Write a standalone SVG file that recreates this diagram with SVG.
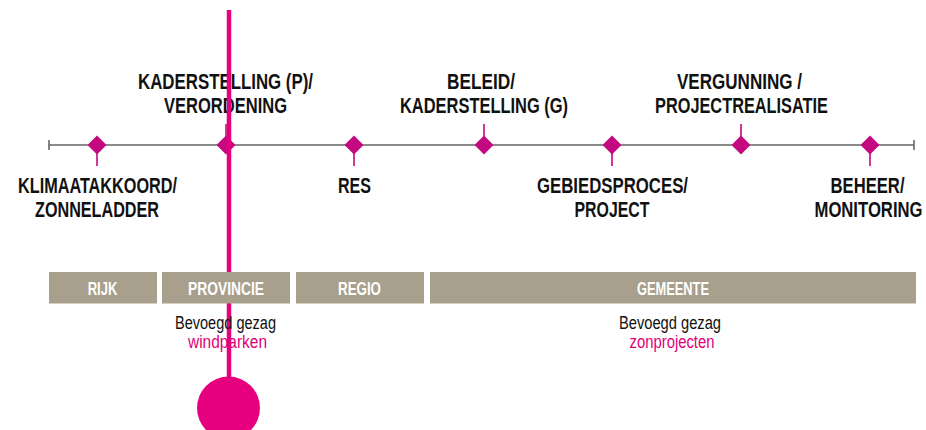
<svg xmlns="http://www.w3.org/2000/svg" width="926" height="430" viewBox="0 0 926 430">
<style>
.h{font-family:"Liberation Sans",Arial,sans-serif;font-weight:bold;font-size:22px;fill:#111;text-anchor:middle}
.b{font-family:"Liberation Sans",Arial,sans-serif;font-weight:bold;font-size:17.5px;fill:#fff;text-anchor:middle}
.r{font-family:"Liberation Sans",Arial,sans-serif;font-size:18px;fill:#111;text-anchor:middle}
.p{fill:#e0007a}
.bar{fill:#a89f8c}
.dia{fill:#c4087f}
.stem{stroke:#c4087f;stroke-width:1.6}
</style>
<defs>
<path id="d" d="M0,-9.5 L9.5,0 L0,9.5 L-9.5,0 Z"/>
</defs>
<rect width="926" height="430" fill="#fff"/>
<g id="timeline">
<line x1="49" y1="145" x2="914" y2="145" stroke="#666" stroke-width="1.6"/>
<line x1="49" y1="140" x2="49" y2="150" stroke="#666" stroke-width="1.6"/>
<line x1="914" y1="140" x2="914" y2="150" stroke="#666" stroke-width="1.6"/>
</g>
<g id="connectors">
<line class="stem" x1="97" y1="150" x2="97" y2="166"/>
<line class="stem" x1="226" y1="124" x2="226" y2="140"/>
<line class="stem" x1="354" y1="150" x2="354" y2="166"/>
<line class="stem" x1="484" y1="124" x2="484" y2="140"/>
<line class="stem" x1="612" y1="150" x2="612" y2="166"/>
<line class="stem" x1="741" y1="124" x2="741" y2="140"/>
<line class="stem" x1="870" y1="150" x2="870" y2="166"/>
</g>
<g id="m1"><use href="#d" class="dia" x="97" y="145"/>
<text class="h" x="97.5" y="193" textLength="159" lengthAdjust="spacingAndGlyphs">KLIMAATAKKOORD/</text>
<text class="h" x="97" y="217" textLength="124" lengthAdjust="spacingAndGlyphs">ZONNELADDER</text></g>
<g id="m2"><use href="#d" class="dia" x="226" y="145"/>
<text class="h" x="225.5" y="89" textLength="175" lengthAdjust="spacingAndGlyphs">KADERSTELLING (P)/</text>
<text class="h" x="225.5" y="113" textLength="123" lengthAdjust="spacingAndGlyphs">VERORDENING</text></g>
<g id="m3"><use href="#d" class="dia" x="354" y="145"/>
<text class="h" x="354.5" y="193" textLength="33" lengthAdjust="spacingAndGlyphs">RES</text></g>
<g id="m4"><use href="#d" class="dia" x="484" y="145"/>
<text class="h" x="481" y="89" textLength="68" lengthAdjust="spacingAndGlyphs">BELEID/</text>
<text class="h" x="484" y="113" textLength="168" lengthAdjust="spacingAndGlyphs">KADERSTELLING (G)</text></g>
<g id="m5"><use href="#d" class="dia" x="612" y="145"/>
<text class="h" x="612.5" y="193" textLength="151" lengthAdjust="spacingAndGlyphs">GEBIEDSPROCES/</text>
<text class="h" x="612" y="217" textLength="75" lengthAdjust="spacingAndGlyphs">PROJECT</text></g>
<g id="m6"><use href="#d" class="dia" x="741" y="145"/>
<text class="h" x="739.5" y="89" textLength="125" lengthAdjust="spacingAndGlyphs">VERGUNNING /</text>
<text class="h" x="741.5" y="113" textLength="173" lengthAdjust="spacingAndGlyphs">PROJECTREALISATIE</text></g>
<g id="m7"><use href="#d" class="dia" x="870" y="145"/>
<text class="h" x="867.5" y="193" textLength="74" lengthAdjust="spacingAndGlyphs">BEHEER/</text>
<text class="h" x="868.5" y="217" textLength="108" lengthAdjust="spacingAndGlyphs">MONITORING</text></g>
<g id="wind">
<line x1="229" y1="10" x2="229" y2="390" stroke="#e6007e" stroke-width="4.5"/>
<circle cx="228.5" cy="408" r="31.5" fill="#e6007e"/>
</g>
<g id="rijk"><rect class="bar" x="49" y="272" width="108" height="31.5"/>
<text class="b" x="102.5" y="294.5" textLength="29.7" lengthAdjust="spacingAndGlyphs">RIJK</text></g>
<g id="provincie"><rect class="bar" x="162" y="272" width="128" height="31.5"/>
<text class="b" x="226" y="294.5" textLength="76" lengthAdjust="spacingAndGlyphs">PROVINCIE</text>
<text class="r" x="225.5" y="329" textLength="101" lengthAdjust="spacingAndGlyphs">Bevoegd gezag</text>
<text class="r p" x="227.5" y="347.5" textLength="79" lengthAdjust="spacingAndGlyphs">windparken</text></g>
<g id="regio"><rect class="bar" x="296" y="272" width="128" height="31.5"/>
<text class="b" x="359.5" y="294.5" textLength="43" lengthAdjust="spacingAndGlyphs">REGIO</text></g>
<g id="gemeente"><rect class="bar" x="430" y="272" width="486" height="31.5"/>
<text class="b" x="673" y="294.5" textLength="72" lengthAdjust="spacingAndGlyphs">GEMEENTE</text>
<text class="r" x="670" y="329" textLength="102" lengthAdjust="spacingAndGlyphs">Bevoegd gezag</text>
<text class="r p" x="672" y="347.5" textLength="85" lengthAdjust="spacingAndGlyphs">zonprojecten</text></g>
</svg>
